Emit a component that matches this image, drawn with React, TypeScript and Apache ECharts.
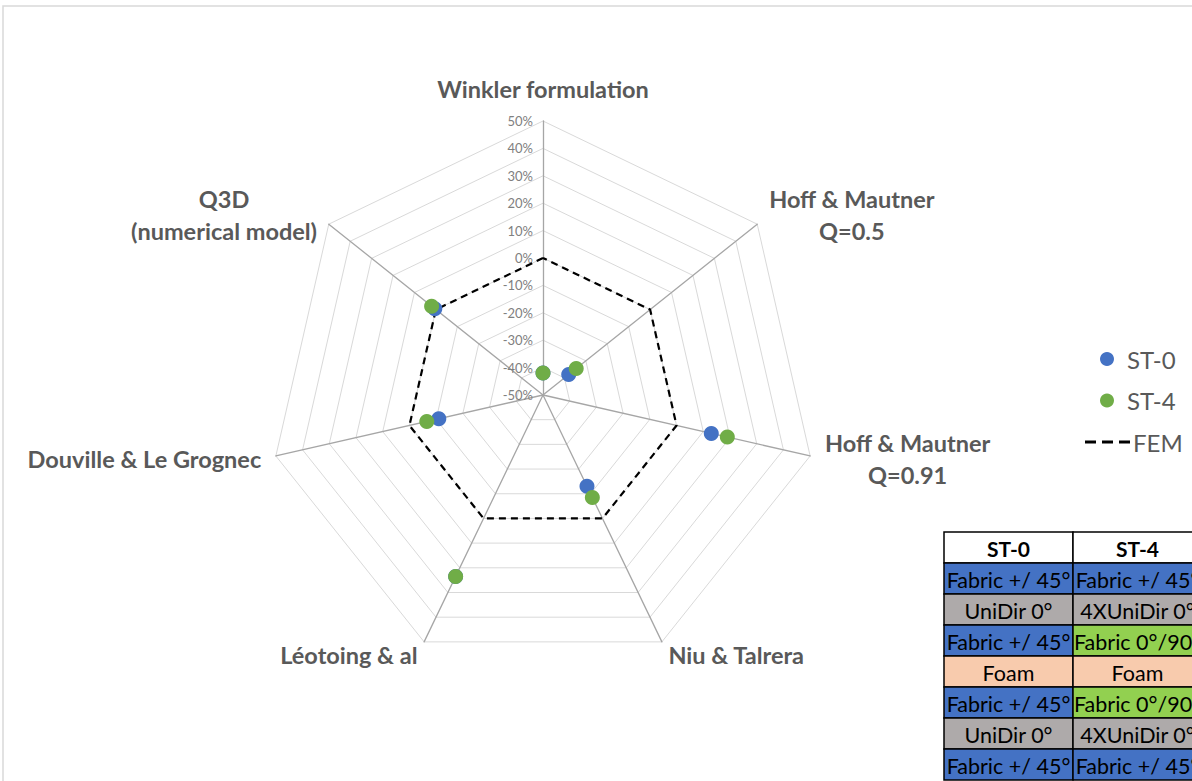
import React, { useEffect, useRef } from 'react';
import * as echarts from 'echarts';

// ---- data (reading order, clockwise from top) ----
const indicatorNames = [
  'Winkler formulation',
  'Hoff & Mautner\nQ=0.5',
  'Hoff & Mautner\nQ=0.91',
  'Niu & Talrera',
  'Léotoing & al',
  'Douville & Le Grognec',
  'Q3D\n(numerical model)',
];
const st0Values = [-42, -38, 13, -13, 23.5, -11, 0.5];
const st4Values = [-42, -34.5, 19, -8.5, 23.5, -6.5, 2];
const femValues = [0, 0, 0, 0, 0, 0, 0];
const axisMin = -50;
const axisMax = 50;
const seriesNames = ['ST-0', 'ST-4', 'FEM'];

const tableHeader = ['ST-0', 'ST-4'];
const tableColST0 = ['Fabric +/ 45°', 'UniDir 0°', 'Fabric +/ 45°', 'Foam', 'Fabric +/ 45°', 'UniDir 0°', 'Fabric +/ 45°'];
const tableColST4 = ['Fabric +/ 45°', '4XUniDir 0°', 'Fabric 0°/90°', 'Foam', 'Fabric 0°/90°', '4XUniDir 0°', 'Fabric +/ 45°'];

// ---- styles ----
const COLORS = { st0: '#4472C4', st4: '#70AD47', fem: '#000000' };
const cellColors: Record<string, string> = {
  'Fabric +/ 45°': '#4472C4',
  'UniDir 0°': '#AEAAAA',
  '4XUniDir 0°': '#AEAAAA',
  'Fabric 0°/90°': '#92D050',
  Foam: '#F8CBAD',
};
const FONT = 'Lato, "Open Sans", sans-serif';

// ECharts places radar indicators counter-clockwise; the picture is clockwise.
const ecOrder = [0, 6, 5, 4, 3, 2, 1];
const reorder = <T,>(arr: T[]) => ecOrder.map((i) => arr[i]);

function buildTable() {
  const x0 = 944;
  const y0 = 532;
  const colW = 129;
  const rowH = 31;
  const children: any[] = [];
  const cols = [tableColST0, tableColST4];
  tableHeader.forEach((h, c) => {
    children.push({
      type: 'rect',
      shape: { x: x0 + c * colW, y: y0, width: colW, height: rowH },
      style: { fill: '#ffffff', stroke: '#000000', lineWidth: 1.5 },
    });
    children.push({
      type: 'text',
      style: {
        text: h,
        x: x0 + c * colW + colW / 2,
        y: y0 + rowH / 2 + 1,
        align: 'center',
        verticalAlign: 'middle',
        font: `bold 21px ${FONT}`,
        fill: '#000000',
      },
    });
  });
  cols.forEach((col, c) => {
    col.forEach((txt, r) => {
      const y = y0 + rowH * (r + 1);
      children.push({
        type: 'rect',
        shape: { x: x0 + c * colW, y, width: colW, height: rowH },
        style: { fill: cellColors[txt], stroke: '#000000', lineWidth: 1.5 },
      });
      children.push({
        type: 'text',
        style: {
          text: txt,
          x: x0 + c * colW + colW / 2,
          y: y + rowH / 2 + 1,
          align: 'center',
          verticalAlign: 'middle',
          font: `21.5px ${FONT}`,
          fill: '#000000',
        },
      });
    });
  });
  return children;
}

export default function App() {
  const ref = useRef<HTMLDivElement>(null);

  useEffect(() => {
    if (!ref.current) return;
    const chart = echarts.init(ref.current, undefined, { renderer: 'svg' });

    const names = reorder(indicatorNames);
    const indicator = names.map((name, i) => {
      const ind: any = { name, min: axisMin, max: axisMax };
      if (i === 0) {
        ind.nameGap = 20;
        ind.axisLabel = {
          show: true,
          formatter: '{value}%',
          color: '#808080',
          fontSize: 13,
          fontFamily: FONT,
          margin: 10,
        };
      }
      return ind;
    });

    const option: any = {
      animation: false,
      backgroundColor: '#ffffff',
      textStyle: { fontFamily: FONT },
      graphic: [
        {
          type: 'polyline',
          shape: { points: [[3, 900], [3, 6], [1300, 6]] },
          style: { stroke: '#d9d9d9', lineWidth: 1.5, fill: null },
          silent: true,
        },
        { type: 'group', children: buildTable() },
      ],
      legend: [
        {
          data: [seriesNames[0], seriesNames[1]],
          orient: 'vertical',
          left: 1095,
          top: 342,
          itemWidth: 30,
          itemHeight: 14,
          itemGap: 17.5,
          icon: 'circle',
          textStyle: { color: '#595959', fontSize: 24, fontFamily: FONT, lineHeight: 24 },
        },
        {
          data: [
            {
              name: seriesNames[2],
              icon: 'path://M0,0h11v3h-11z M17,0h11v3h-11z M34,0h11v3h-11z',
              itemStyle: { color: '#000000' },
            },
          ],
          orient: 'vertical',
          left: 1080,
          top: 425,
          itemWidth: 45,
          itemHeight: 3,
          textStyle: { color: '#595959', fontSize: 24, fontFamily: FONT, lineHeight: 24, padding: [0, 0, 0, -2] },
        },
      ],
      radar: {
        center: [543, 395],
        radius: 274,
        startAngle: 90,
        shape: 'polygon',
        splitNumber: 10,
        nameGap: 15,
        indicator,
        axisName: {
          color: '#595959',
          fontSize: 23.5,
          fontWeight: 'bold',
          fontFamily: FONT,
          formatter: (name: string) =>
            name.includes('\n')
              ? name
                  .split('\n')
                  .map((l) => `{c|${l}}`)
                  .join('\n')
              : name,
          rich: {
            c: {
              align: 'center',
              color: '#595959',
              fontSize: 23.5,
              fontWeight: 'bold',
              fontFamily: FONT,
              lineHeight: 32,
            },
          },
        },
        axisLine: { lineStyle: { color: '#a6a6a6', width: 1.3 } },
        splitLine: { lineStyle: { color: '#d9d9d9', width: 1 } },
        splitArea: { show: false },
        axisTick: { show: false },
      },
      series: [
        {
          type: 'radar',
          z: 2,
          data: [
            {
              name: seriesNames[2],
              value: reorder(femValues),
              symbol: 'none',
              lineStyle: { color: COLORS.fem, width: 2.2, type: [7, 5] },
              itemStyle: { color: COLORS.fem },
            },
          ],
        },
        {
          type: 'radar',
          z: 3,
          data: [
            {
              name: seriesNames[0],
              value: reorder(st0Values),
              symbol: 'circle',
              symbolSize: 15,
              lineStyle: { width: 0, opacity: 0 },
              itemStyle: { color: COLORS.st0 },
            },
          ],
        },
        {
          type: 'radar',
          z: 4,
          data: [
            {
              name: seriesNames[1],
              value: reorder(st4Values),
              symbol: 'circle',
              symbolSize: 15,
              lineStyle: { width: 0, opacity: 0 },
              itemStyle: { color: COLORS.st4 },
            },
          ],
        },
      ],
    };

    chart.setOption(option);
    return () => chart.dispose();
  }, []);

  return (
    <div
      ref={ref}
      style={{ position: 'absolute', left: 0, top: 0, width: 1192, height: 781 }}
    />
  );
}
